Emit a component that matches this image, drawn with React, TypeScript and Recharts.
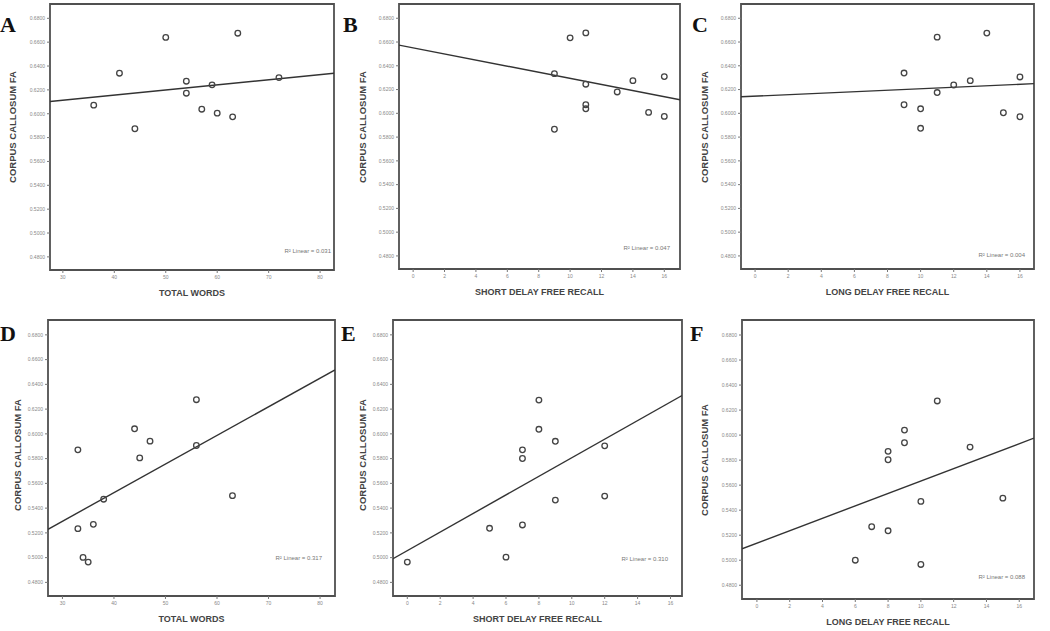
import React from "react";
import {
  ReferenceArea,
  Scatter,
  ScatterChart,
  XAxis,
  YAxis,
} from "recharts";

// shared axes
const faTicks = [0.48, 0.5, 0.52, 0.54, 0.56, 0.58, 0.6, 0.62, 0.64, 0.66, 0.68];
const wordTicks = [30, 40, 50, 60, 70, 80];
const recallTicks = [0, 2, 4, 6, 8, 10, 12, 14, 16];

// A: total words
const wordsA = [36, 41, 44, 50, 54, 54, 57, 59, 60, 63, 64, 72];
const faA = [0.6072, 0.634, 0.5874, 0.664, 0.6273, 0.6172, 0.6038, 0.6242, 0.6005, 0.5974, 0.6675, 0.6303];
const fitAX = [27.5, 82.7];
const fitAY = [0.6102, 0.634];

// B: short delay free recall
const shortB = [9, 9, 10, 11, 11, 11, 11, 13, 14, 15, 16, 16];
const faB = [0.6334, 0.5866, 0.6635, 0.6677, 0.6245, 0.6072, 0.6038, 0.618, 0.6275, 0.6008, 0.6309, 0.5974];
const fitBX = [-0.9, 17.0];
const fitBY = [0.6574, 0.6114];

// C: long delay free recall
const longC = [9, 9, 11, 10, 10, 11, 12, 13, 14, 15, 16, 16];
const faC = [0.6339, 0.6072, 0.6641, 0.6038, 0.5874, 0.6175, 0.6239, 0.6275, 0.6675, 0.6005, 0.6306, 0.5971];
const fitCX = [-0.85, 16.85];
const fitCY = [0.6139, 0.625];

// D: total words
const wordsD = [33, 33, 34, 35, 36, 38, 44, 45, 47, 56, 56, 63];
const faD = [0.5871, 0.5234, 0.5002, 0.4964, 0.5269, 0.5472, 0.6041, 0.5806, 0.5941, 0.6276, 0.5906, 0.5501];
const fitDX = [27.2, 82.9];
const fitDY = [0.5229, 0.6517];

// E: short delay free recall
const shortE = [0, 5, 6, 7, 7, 7, 8, 8, 9, 9, 12, 12];
const faE = [0.4964, 0.5237, 0.5004, 0.5264, 0.5871, 0.5801, 0.6273, 0.6037, 0.594, 0.5465, 0.5903, 0.5497];
const fitEX = [-0.87, 16.7];
const fitEY = [0.4991, 0.631];

// F: long delay free recall
const longF = [6, 7, 8, 8, 8, 9, 9, 10, 10, 11, 13, 15];
const faF = [0.5, 0.5268, 0.587, 0.5803, 0.5235, 0.604, 0.5939, 0.547, 0.4966, 0.6273, 0.5904, 0.5496];
const fitFX = [-0.91, 16.9];
const fitFY = [0.5091, 0.5976];

const yDomain: [number, number] = [0.469, 0.692];
const sans = "'Liberation Sans', Arial, sans-serif";
const Y_W = 40;
const X_H = 16;

const zip = (xs: number[], ys: number[]) => xs.map((x, i) => ({ x, y: ys[i] }));

type PanelProps = {
  letter: string;
  letterX: number;
  letterTop: number;
  frame: [number, number, number, number]; // left, top, right, bottom
  xDomain: [number, number];
  xTicks: number[];
  xs: number[];
  ys: number[];
  fitX: number[];
  fitY: number[];
  xTitle: string;
  yTitleX: number;
  yTitleY: number;
  r2: string;
  r2Right: number;
  r2Y: number;
};

const Dot = (props: any) => (
  <circle cx={props.cx} cy={props.cy} r={2.8} fill="none" stroke="#444" strokeWidth={1.3} />
);

function Panel(p: PanelProps) {
  const [fx0, fy0, fx1, fy1] = p.frame;
  const width = fx1 - fx0 + Y_W + 2;
  const height = fy1 - fy0 + 2 + X_H;
  const tickStyle = { fontSize: 5, fill: "#888", fontFamily: sans };
  return (
    <>
      <div style={{ position: "absolute", left: fx0 - Y_W, top: fy0 - 2 }}>
        <ScatterChart width={width} height={height} margin={{ top: 2, right: 2, bottom: 0, left: 0 }}>
          <XAxis
            type="number"
            dataKey="x"
            domain={p.xDomain}
            ticks={p.xTicks}
            allowDataOverflow
            axisLine={false}
            tickSize={3}
            tickLine={{ stroke: "#777" }}
            tick={tickStyle}
            height={X_H}
          />
          <YAxis
            type="number"
            dataKey="y"
            domain={yDomain}
            ticks={faTicks}
            allowDataOverflow
            axisLine={false}
            tickSize={3}
            tickLine={{ stroke: "#777" }}
            tick={tickStyle}
            tickFormatter={(v: number) => v.toFixed(4)}
            width={Y_W}
          />
          <ReferenceArea
            x1={p.xDomain[0]}
            x2={p.xDomain[1]}
            y1={yDomain[0]}
            y2={yDomain[1]}
            fill="none"
            stroke="#505050"
            strokeWidth={1.8}
            ifOverflow="visible"
          />
          <Scatter
            data={zip(p.fitX, p.fitY)}
            line={{ stroke: "#333", strokeWidth: 1.4 }}
            shape={() => <g />}
            isAnimationActive={false}
          />
          <Scatter data={zip(p.xs, p.ys)} shape={Dot} isAnimationActive={false} />
        </ScatterChart>
      </div>
      <div
        style={{
          position: "absolute",
          left: p.letterX,
          top: p.letterTop,
          fontFamily: "'Liberation Serif', 'Times New Roman', serif",
          fontWeight: "bold",
          fontSize: 22,
          lineHeight: "22px",
          color: "#111",
        }}
      >
        {p.letter}
      </div>
      <div
        style={{
          position: "absolute",
          left: p.yTitleX - 100,
          top: p.yTitleY - 6,
          width: 200,
          height: 12,
          lineHeight: "12px",
          textAlign: "center",
          transform: "rotate(-90deg)",
          fontFamily: sans,
          fontWeight: "bold",
          fontSize: 9.5,
          color: "#444",
          whiteSpace: "nowrap",
        }}
      >
        CORPUS CALLOSUM FA
      </div>
      <div
        style={{
          position: "absolute",
          left: fx0,
          width: fx1 - fx0,
          top: fy1 + 17,
          lineHeight: "12px",
          textAlign: "center",
          fontFamily: sans,
          fontWeight: "bold",
          fontSize: 9,
          color: "#444",
          whiteSpace: "nowrap",
        }}
      >
        {p.xTitle}
      </div>
      <div
        style={{
          position: "absolute",
          left: p.r2Right - 80,
          width: 80,
          top: p.r2Y - 4,
          lineHeight: "8px",
          textAlign: "right",
          fontFamily: sans,
          fontSize: 6,
          color: "#777",
          whiteSpace: "nowrap",
        }}
      >
        R² Linear = {p.r2}
      </div>
    </>
  );
}

export default function App() {
  return (
    <div style={{ position: "absolute", left: 0, top: 0, width: 1050, height: 631, background: "#fff", overflow: "hidden" }}>
      <Panel letter="A" letterX={0} letterTop={14} frame={[50, 4, 334, 270]} xDomain={[27.5, 82.7]} xTicks={wordTicks}
        xs={wordsA} ys={faA} fitX={fitAX} fitY={fitAY} xTitle="TOTAL WORDS" yTitleX={13} yTitleY={127} r2="0.031" r2Right={331} r2Y={251} />
      <Panel letter="B" letterX={343} letterTop={14} frame={[399, 4, 680, 269]} xDomain={[-0.9, 17.0]} xTicks={recallTicks}
        xs={shortB} ys={faB} fitX={fitBX} fitY={fitBY} xTitle="SHORT DELAY FREE RECALL" yTitleX={363} yTitleY={127} r2="0.047" r2Right={670} r2Y={248} />
      <Panel letter="C" letterX={692} letterTop={14} frame={[741, 4, 1034, 269]} xDomain={[-0.85, 16.85]} xTicks={recallTicks}
        xs={longC} ys={faC} fitX={fitCX} fitY={fitCY} xTitle="LONG DELAY FREE RECALL" yTitleX={705} yTitleY={127} r2="0.004" r2Right={1025} r2Y={255} />
      <Panel letter="D" letterX={0} letterTop={323} frame={[48, 320, 335, 596]} xDomain={[27.2, 82.9]} xTicks={wordTicks}
        xs={wordsD} ys={faD} fitX={fitDX} fitY={fitDY} xTitle="TOTAL WORDS" yTitleX={18} yTitleY={455} r2="0.317" r2Right={322} r2Y={558} />
      <Panel letter="E" letterX={341} letterTop={323} frame={[393, 320, 682, 596]} xDomain={[-0.87, 16.7]} xTicks={recallTicks}
        xs={shortE} ys={faE} fitX={fitEX} fitY={fitEY} xTitle="SHORT DELAY FREE RECALL" yTitleX={363} yTitleY={455} r2="0.310" r2Right={668} r2Y={559} />
      <Panel letter="F" letterX={690} letterTop={323} frame={[742, 320, 1034, 599]} xDomain={[-0.91, 16.9]} xTicks={recallTicks}
        xs={longF} ys={faF} fitX={fitFX} fitY={fitFY} xTitle="LONG DELAY FREE RECALL" yTitleX={705} yTitleY={460} r2="0.088" r2Right={1025} r2Y={577} />
    </div>
  );
}
